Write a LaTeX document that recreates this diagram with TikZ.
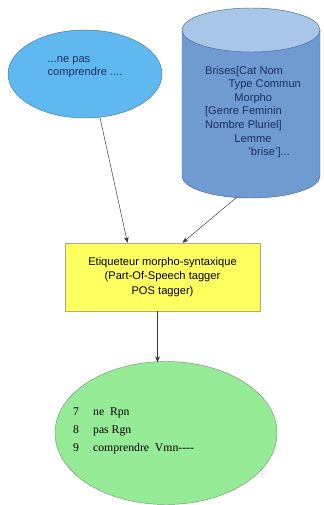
\documentclass[tikz,border=0pt]{standalone}
\usepackage{fontspec}
\setmainfont{Liberation Serif}
\setsansfont{Liberation Sans}
\usetikzlibrary{arrows.meta,positioning,calc,shapes.geometric}
\definecolor{bulleFond}{RGB}{95,185,240}
\definecolor{bulleBord}{RGB}{70,120,170}
\definecolor{baseCorps}{RGB}{112,155,208}
\definecolor{baseHaut}{RGB}{168,198,232}
\definecolor{baseBord}{RGB}{75,105,150}
\definecolor{texteBleu}{RGB}{25,45,95}
\definecolor{jaune}{RGB}{255,255,95}
\definecolor{jauneBord}{RGB}{175,170,120}
\definecolor{vert}{RGB}{150,235,150}
\definecolor{vertBord}{RGB}{120,150,120}

\begin{document}
\begin{tikzpicture}[x=0.03cm,y=-0.03cm,>={Stealth[length=5pt,width=4pt]},
 font=\sffamily\fontsize{9.5}{11.5}\selectfont,
 bulle/.style={ellipse,draw=bulleBord,fill=bulleFond,inner sep=0pt},
 texte/.style={align=left,inner sep=0pt,text=texteBleu},
 etiq/.style={draw=jauneBord,fill=jaune,align=center,inner sep=0pt},
 sortie/.style={ellipse,draw=vertBord,fill=vert,inner sep=0pt},
 fleche/.style={->,draw=black!80,thin}]
\useasboundingbox (0,0) rectangle (323,505);
\node[bulle,minimum width=4.62cm,minimum height=2.64cm] (phrase) at (85,74) {};
\node[texte] (phraseTexte) at (85,67) {...ne pas\\comprendre ....};
% cylindre du lexique
\filldraw[fill=baseCorps,draw=baseBord] (182,30) -- (182,176)
 arc[start angle=180,end angle=360,x radius=2.07cm,y radius=0.66cm] -- (320,30) -- cycle;
\filldraw[fill=baseHaut,draw=baseBord] (251,30) ellipse[x radius=2.07cm,y radius=0.66cm];
\coordinate (lexiqueBas) at (237,197);
\node[texte,font=\sffamily\fontsize{9.5}{11.6}\selectfont] (lexique) at (253,112)
 {Brises[Cat Nom\\\hspace{20pt}Type Commun\\\hspace{25pt}Morpho\\{}[Genre Feminin\\Nombre Pluriel]\\\hspace{25pt}Lemme\\\hspace{37pt}'brise']...};
\node[etiq,minimum width=5.85cm,minimum height=2.04cm,font=\sffamily\fontsize{9.5}{12.3}\selectfont] (tagger) at (162.5,277)
 {Etiqueteur morpho-syntaxique\\(Part-Of-Speech tagger\\POS tagger)};
\node[sortie,minimum width=6.66cm,minimum height=4.29cm] (resultat) at (166,433) {};
\node[anchor=west,align=left,inner sep=0pt,font=\rmfamily\fontsize{10}{15.3}\selectfont] (etiquettes) at (73,431)
 {7\hspace{12pt}ne\ \ Rpn\\8\hspace{12pt}pas Rgn\\9\hspace{12pt}comprendre\ \ Vmn{-}{-}{-}{-}};
\draw[fleche] (phrase.-71) -- ($(tagger.north)+(-35,0)$);
\draw[fleche] (lexiqueBas) -- ($(tagger.north)+(20,0)$);
\draw[fleche] ($(tagger.south)+(-5,0)$) -- ($(tagger.south)+(-5,51)$);
\end{tikzpicture}
\end{document}
